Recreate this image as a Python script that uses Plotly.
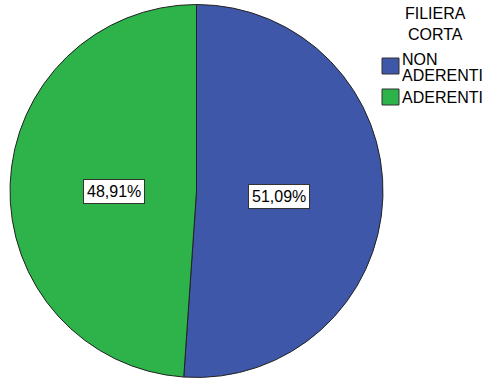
import math
import plotly.graph_objects as go

legend_title = "FILIERA<br>CORTA"
labels = ["NON<br>ADERENTI", "ADERENTI"]
values = [51.09, 48.91]
text_labels = ["51,09%", "48,91%"]
colors = ["#3F57A8", "#2DB34A"]

W, H = 487, 379
FONT = "Liberation Sans, Arial"


def px(x):
    return x / W


def py(y):
    return 1 - y / H


dx0, dx1 = px(10), px(383)
dy0, dy1 = py(378), py(4)

fig = go.Figure(go.Pie(
    labels=labels, values=values, sort=False, direction="clockwise", rotation=0,
    marker=dict(colors=colors, line=dict(color="#222222", width=1)),
    textinfo="none", hoverinfo="none", showlegend=False,
    domain=dict(x=[dx0, dx1], y=[dy0, dy1]),
))

# boxed percentage labels at mid-angle of each slice
cx, cy = (dx0 + dx1) / 2, (dy0 + dy1) / 2
rx, ry = (dx1 - dx0) / 2, (dy1 - dy0) / 2
total = sum(values)
cum = 0
for v, t in zip(values, text_labels):
    mid = (cum + v / 2) / total * 2 * math.pi
    cum += v
    r = 0.445
    fig.add_annotation(
        x=cx + r * rx * math.sin(mid), y=cy + r * ry * math.cos(mid) - 0.008,
        xref="paper", yref="paper", text=t, showarrow=False,
        xanchor="center", yanchor="middle",
        font=dict(family=FONT, size=16, color="black"),
        bgcolor="white", bordercolor="#333333", borderwidth=1, borderpad=3,
    )

# manual legend
fig.add_annotation(
    x=px(435.5), y=py(24), xref="paper", yref="paper",
    text=legend_title, showarrow=False, xanchor="center", yanchor="middle",
    align="center", font=dict(family=FONT, size=16, color="black"),
)

item_tops = [58, 89]
for lab, col, top in zip(labels, colors, item_tops):
    fig.add_shape(
        type="rect", xref="paper", yref="paper",
        x0=px(382), x1=px(399), y0=py(top), y1=py(top + 16),
        fillcolor=col, line=dict(color="#333333", width=1),
    )
    lines = lab.split("<br>")
    first = top + 1.5 if len(lines) > 1 else top + 8.5
    for j, line in enumerate(lines):
        fig.add_annotation(
            x=px(400), y=py(first + j * 16), xref="paper", yref="paper",
            text=line, showarrow=False, xanchor="left", yanchor="middle",
            font=dict(family=FONT, size=16, color="black"),
        )

fig.update_layout(
    width=W, height=H, margin=dict(l=0, r=0, t=0, b=0),
    paper_bgcolor="white", plot_bgcolor="white",
    font=dict(family=FONT, size=14, color="black"),
)

fig.write_html("out.html")
